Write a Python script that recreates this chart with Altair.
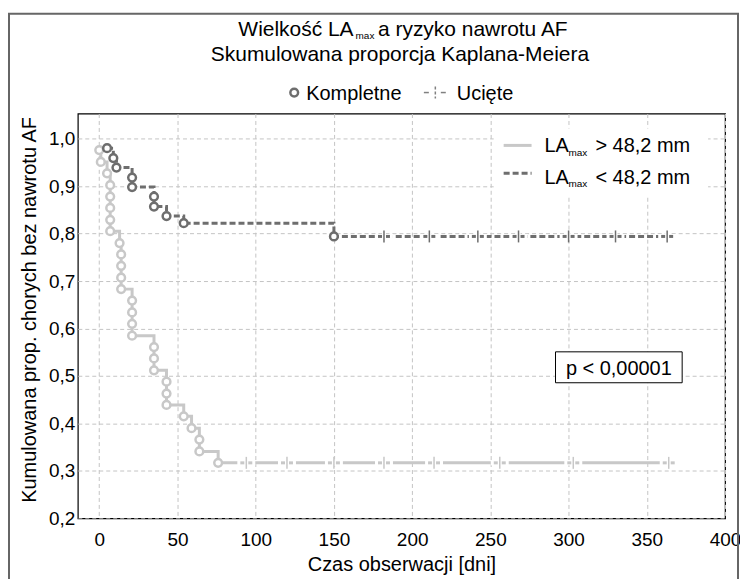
import altair as alt
import pandas as pd

# ---------------- data ----------------
light_times = [0, 1, 5, 7, 7, 7, 7, 7, 13, 14, 14, 14, 14, 21, 21, 21, 21,
               35, 35, 35, 43, 43, 43, 54, 59, 64, 64, 76]
light_surv = [0.976, 0.951, 0.927, 0.902, 0.878, 0.854, 0.829, 0.805, 0.780,
              0.756, 0.732, 0.707, 0.683, 0.659, 0.634, 0.610, 0.585, 0.561,
              0.537, 0.512, 0.488, 0.463, 0.439, 0.415, 0.390, 0.366, 0.341, 0.317]
light_censor = [94, 120, 150, 182, 214, 256, 303, 364]

dark_times = [5, 9, 11, 21, 21, 35, 35, 43, 54, 150]
dark_surv = [0.980, 0.959, 0.939, 0.918, 0.898, 0.878, 0.857, 0.837, 0.822, 0.794]
dark_censor = [182, 211, 242, 268, 300, 330, 363]

end_time = 368

x_ticks = [0, 50, 100, 150, 200, 250, 300, 350, 400]
y_ticks = [0.2, 0.3, 0.4, 0.5, 0.6, 0.7, 0.8, 0.9, 1.0]

title_1a, title_1b, title_1c = "Wielkość LA", "max", "a ryzyko nawrotu AF"
title_2 = "Skumulowana proporcja Kaplana-Meiera"
legend_events = "Kompletne"
legend_censored = "Ucięte"
series_base = "LA"
series_sub = "max"
series_labels = ["> 48,2 mm", "< 48,2 mm"]
x_title = "Czas obserwacji [dni]"
y_title = "Kumulowana prop. chorych bez nawrotu AF"
p_text = "p < 0,00001"

# ---------------- style ----------------
FONT = "Liberation Sans"
LIGHT = "#c8c8c8"
DARK = "#6e6e6e"
GRID = "#c4c4c4"
W, H = 649, 406


def path_df(times, surv, end):
    pts = {}
    for t, s in zip(times, surv):
        pts[t] = min(s, pts.get(t, 1.0))
    rows = sorted(pts.items())
    rows.append((end, rows[-1][1]))
    return pd.DataFrame(rows, columns=["t", "s"])


light_path = path_df(light_times, light_surv, end_time)
dark_path = path_df(dark_times, dark_surv, end_time)
light_pts = pd.DataFrame({"t": light_times, "s": light_surv})
dark_pts = pd.DataFrame({"t": dark_times, "s": dark_surv})
light_c = pd.DataFrame({"t": light_censor, "s": [light_surv[-1]] * len(light_censor)})
dark_c = pd.DataFrame({"t": dark_censor, "s": [dark_surv[-1]] * len(dark_censor)})
one = pd.DataFrame({"d": [0]})

xs = alt.Scale(domain=[-13.7, 400], nice=False, zero=False)
ys = alt.Scale(domain=[0.2, 1.053], nice=False, zero=False)
x_axis = alt.Axis(values=x_ticks, title=None, grid=True, domain=False, ticks=False,
                  labelFont=FONT, labelFontSize=19, labelColor="black", labelPadding=12,
                  gridColor=GRID, gridDash=[4, 3], gridWidth=1,
                  labelFlush=False, labelOverlap=False)
y_axis = alt.Axis(values=y_ticks, title=None, grid=True, domain=False, ticks=False,
                  labelExpr="replace(format(datum.value, '.1f'), '.', ',')",
                  labelFont=FONT, labelFontSize=19, labelColor="black", labelPadding=3,
                  gridColor=GRID, gridDash=[4, 3], gridWidth=1,
                  labelFlush=False, labelOverlap=False)


def enc():
    return dict(x=alt.X("t:Q", scale=xs, axis=x_axis),
                y=alt.Y("s:Q", scale=ys, axis=y_axis))


def line(df, color, dash=None):
    kw = dict(interpolate="step-after", color=color, strokeWidth=3)
    if dash:
        kw["strokeDash"] = dash
    return alt.Chart(df).mark_line(**kw).encode(**enc())


def pts(df, color):
    return alt.Chart(df).mark_point(shape="circle", filled=True, fill="white",
                                    stroke=color, strokeWidth=2.5, size=60,
                                    opacity=1).encode(**enc())


def censor(df, color):
    return [
        alt.Chart(df).mark_tick(orient="horizontal", color="white", size=18,
                                thickness=5, opacity=1).encode(**enc()),
        alt.Chart(df).mark_tick(orient="horizontal", color=color, size=12,
                                thickness=3, opacity=1).encode(**enc()),
        alt.Chart(df).mark_tick(orient="vertical", color="white", size=7,
                                thickness=4, opacity=1).encode(**enc()),
        alt.Chart(df).mark_tick(orient="vertical", color=color, size=12,
                                thickness=1.5, opacity=1).encode(**enc()),
    ]


def txt(s, x, y, size=20, align="left", baseline="alphabetic", angle=0):
    return alt.Chart(one).mark_text(text=s, align=align, baseline=baseline, font=FONT,
                                    fontSize=size, angle=angle, color="black").encode(
        x=alt.value(x), y=alt.value(y))


def hrule(x1, x2, y, color, width=3, dash=None):
    kw = dict(color=color, strokeWidth=width)
    if dash:
        kw["strokeDash"] = dash
    return alt.Chart(one).mark_rule(**kw).encode(x=alt.value(x1), x2=alt.value(x2),
                                                 y=alt.value(y))


def vrule(x, y1, y2, color, width=1.5, dash=None):
    kw = dict(color=color, strokeWidth=width)
    if dash:
        kw["strokeDash"] = dash
    return alt.Chart(one).mark_rule(**kw).encode(x=alt.value(x), y=alt.value(y1),
                                                 y2=alt.value(y2))


def rect(x1, x2, y1, y2, **kw):
    return alt.Chart(one).mark_rect(**kw).encode(x=alt.value(x1), x2=alt.value(x2),
                                                 y=alt.value(y1), y2=alt.value(y2))


layers = [
    line(light_path, LIGHT),
    pts(light_pts, LIGHT),
    line(dark_path, DARK, [6, 3]),
    pts(dark_pts, DARK),
]
layers += censor(light_c, LIGHT)
layers += censor(dark_c, DARK)

# in-plot series legend
layers += [
    rect(417, 632, 15, 83, fill="white"),
    hrule(427, 455, 32, LIGHT),
    hrule(427, 455, 60, DARK, dash=[6, 3]),
    txt(series_base, 468, 39),
    txt(series_sub, 492, 42.5, size=10),
    txt(series_labels[0], 519, 39),
    txt(series_base, 468, 70.5),
    txt(series_sub, 492, 74, size=10),
    txt(series_labels[1], 519, 70.5),
]

# p-value box
layers += [
    rect(479, 606, 239, 270, fill="white", stroke="black", strokeWidth=1),
    txt(p_text, 542.5, 262, align="center"),
]

# titles
layers += [
    txt(title_1a, 161, -78, size=21),
    txt(title_1b, 278.5, -74.5, size=10),
    txt(title_1c, 301, -78, size=21),
    txt(title_2, 323, -53, size=21, align="center"),
]

# top legend (events / censored)
layers += [
    alt.Chart(one).mark_point(shape="circle", filled=True, fill="white", stroke=DARK,
                              strokeWidth=2.5, size=60, opacity=1).encode(
        x=alt.value(217), y=alt.value(-21)),
    txt(legend_events, 229, -14),
    hrule(347, 352, -21, "#808080", width=1.5),
    hrule(364, 369, -21, "#808080", width=1.5),
    vrule(358.5, -27, -15, "#808080", width=1.5, dash=[3, 2]),
    txt(legend_censored, 380, -14),
]

# axis titles
layers += [
    txt(x_title, 325, 459, align="center"),
    txt(y_title, -48, 197, align="center", baseline="middle", angle=270),
]

# outer frame
layers += [
    rect(-69, 662, -100, 480, fillOpacity=0, stroke="#666666", strokeWidth=2),
]

chart = alt.layer(*layers).properties(
    width=W, height=H,
    padding={"left": 70, "top": 105, "right": 15, "bottom": 62},
    autosize=alt.AutoSizeParams(type="none"),
).configure_view(stroke="black", strokeWidth=1.2)

chart.save("out.html", embed_options={"renderer": "svg", "actions": False})
